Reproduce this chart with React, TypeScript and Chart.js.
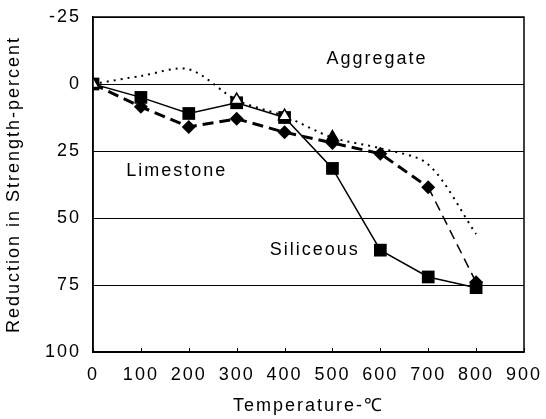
import React, { useEffect, useRef } from 'react';
import { Chart, registerables } from 'chart.js';

Chart.register(...registerables);

const temperatures = [0, 100, 200, 300, 400, 500, 600, 700, 800];
const siliceous = [0, 5, 11, 7, 12.5, 31.5, 62, 72, 76];
const limestone = [0, 8.5, 16, 13, 18, 22, 26, 38.5, 74];
const aggregate = [0, -3, -5.5, 6, 12, 20, 24, 30, 56];
const yTickValues = [-25, 0, 25, 50, 75, 100];
const xTickValues = [0, 100, 200, 300, 400, 500, 600, 700, 800, 900];
const plotLabels = [
  { text: 'Aggregate', x: 593, y: -9.5 },
  { text: 'Limestone', x: 175, y: 32.6 },
  { text: 'Siliceous', x: 463, y: 62 },
];

const FONT = '"Liberation Sans", Arial, sans-serif';
const SPACING = '2px';

const spacingPlugin = {
  id: 'spacing',
  beforeUpdate(chart: any) { chart.ctx.letterSpacing = SPACING; },
  beforeLayout(chart: any) { chart.ctx.letterSpacing = SPACING; },
  beforeDraw(chart: any) { chart.ctx.letterSpacing = SPACING; },
};

const framePlugin = {
  id: 'frame',
  afterDraw(chart: any) {
    const { ctx, chartArea } = chart;
    const xs = chart.scales.x;
    ctx.save();
    ctx.strokeStyle = '#000';
    ctx.lineWidth = 1.5;
    ctx.strokeRect(chartArea.left, chartArea.top, chartArea.right - chartArea.left, chartArea.bottom - chartArea.top);
    ctx.lineWidth = 1;
    ctx.beginPath();
    xs.ticks.forEach((t: any) => {
      const px = Math.round(xs.getPixelForValue(t.value)) + 0.5;
      ctx.moveTo(px, chartArea.bottom);
      ctx.lineTo(px, chartArea.bottom - 4);
    });
    ctx.stroke();
    ctx.restore();
  },
};

const labelsPlugin = {
  id: 'plotLabels',
  afterDatasetsDraw(chart: any) {
    const { ctx } = chart;
    const xs = chart.scales.x;
    const ys = chart.scales.y;
    ctx.save();
    ctx.letterSpacing = SPACING;
    ctx.fillStyle = '#000';
    ctx.font = `18px ${FONT}`;
    ctx.textAlign = 'center';
    ctx.textBaseline = 'middle';
    plotLabels.forEach((l) => {
      ctx.fillText(l.text, xs.getPixelForValue(l.x), ys.getPixelForValue(l.y));
    });
    ctx.restore();
  },
};

export default function App() {
  const ref = useRef<HTMLCanvasElement>(null);
  useEffect(() => {
    document.body.style.margin = '0';
    const canvas = ref.current!;
    const lastIdx = temperatures.length - 2;
    const chart = new Chart(canvas, {
      type: 'line',
      data: {
        datasets: [
          {
            label: 'Aggregate',
            data: temperatures.map((t, i) => ({ x: t, y: aggregate[i] })),
            borderColor: '#000',
            borderWidth: 2,
            borderDash: [2, 5],
            tension: 0.3,
            pointStyle: 'triangle',
            pointRadius: [7, 0, 0, 7, 7, 7, 0, 0, 0],
            pointBackgroundColor: ['#fff', '#fff', '#fff', '#fff', '#fff', '#000', '#fff', '#fff', '#fff'],
            pointBorderColor: '#000',
            pointBorderWidth: 1.5,
            order: 0,
          },
          {
            label: 'Siliceous',
            data: temperatures.map((t, i) => ({ x: t, y: siliceous[i] })),
            borderColor: '#000',
            borderWidth: 1.5,
            pointStyle: 'rect',
            pointRadius: 9,
            pointBackgroundColor: '#000',
            pointBorderColor: '#000',
            pointBorderWidth: 0,
            order: 1,
          },
          {
            label: 'Limestone',
            data: temperatures.map((t, i) => ({ x: t, y: limestone[i] })),
            borderColor: '#000',
            borderWidth: 3,
            borderDash: [11, 6],
            segment: {
              borderWidth: (c: any) => (c.p0DataIndex === lastIdx ? 1.5 : 3),
              borderDash: (c: any) => (c.p0DataIndex === lastIdx ? [10, 6] : [11, 6]),
            },
            pointStyle: 'rectRot',
            pointRadius: 7,
            pointBackgroundColor: '#000',
            pointBorderColor: '#000',
            pointBorderWidth: 0,
            order: 2,
          },
        ],
      },
      options: {
        responsive: false,
        animation: false,
        layout: { padding: { left: 0, right: 22, top: 17, bottom: 2 } },
        plugins: {
          legend: { display: false },
          tooltip: { enabled: false },
        },
        scales: {
          x: {
            type: 'linear',
            min: 0,
            max: 900,
            afterBuildTicks: (s: any) => { s.ticks = xTickValues.map((v) => ({ value: v })); },
            ticks: { color: '#000', font: { family: FONT, size: 18 }, padding: 12, maxRotation: 0 },
            grid: { display: false, drawTicks: false },
            border: { display: true, color: '#000', width: 1.5 },
            title: {
              display: true,
              text: 'Temperature-℃',
              color: '#000',
              font: { family: FONT, size: 18 },
              padding: { top: 8, bottom: 0 },
            },
            afterFit: (s: any) => { s.height = 65; s.paddingLeft = 0; s.paddingRight = 0; },
          },
          y: {
            type: 'linear',
            min: -25,
            max: 100,
            reverse: true,
            afterBuildTicks: (s: any) => { s.ticks = yTickValues.map((v) => ({ value: v })); },
            ticks: { color: '#000', font: { family: FONT, size: 18 }, padding: 12 },
            grid: { color: '#000', lineWidth: 1, drawTicks: false },
            border: { display: true, color: '#000', width: 1.5 },
            title: {
              display: true,
              text: 'Reduction in Strength-percent',
              color: '#000',
              font: { family: FONT, size: 18 },
              padding: { top: 3, bottom: 0 },
            },
            afterFit: (s: any) => { s.width = 93; s.paddingTop = 0; s.paddingBottom = 0; },
          },
        },
      },
      plugins: [spacingPlugin, labelsPlugin, framePlugin],
    } as any);
    return () => chart.destroy();
  }, []);
  return (
    <canvas
      ref={ref}
      width={546}
      height={419}
      style={{ position: 'absolute', left: 0, top: 0, display: 'block', background: '#fff' }}
    />
  );
}
